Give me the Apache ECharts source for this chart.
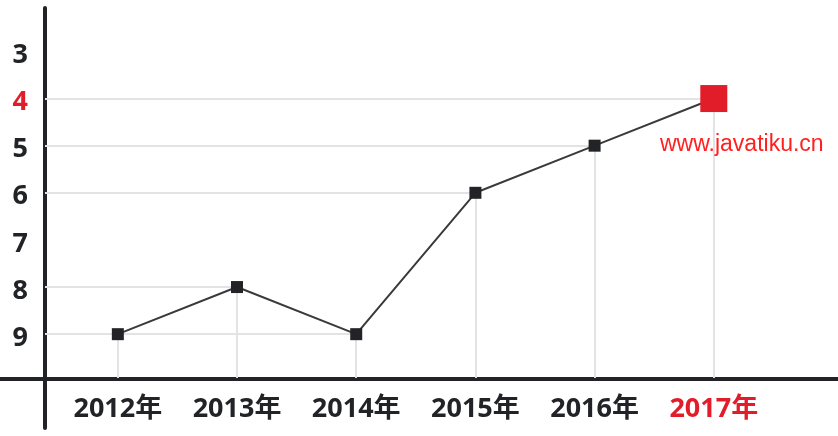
<!DOCTYPE html>
<html>
<head>
<meta charset="utf-8">
<script src="https://cdn.jsdelivr.net/npm/echarts@6/dist/echarts.min.js"></script>
<style>
html,body{margin:0;padding:0;background:#fff;}
#chart{width:838px;height:436px;}
</style>
</head>
<body>
<div id="chart"></div>
<script>
// ---- data ----
const years = [2012, 2013, 2014, 2015, 2016, 2017];
const ranks = [9, 8, 9, 6, 5, 4];
const yTickLabels = [3, 4, 5, 6, 7, 8, 9];
const highlightYear = 2017;
const highlightRank = 4;
const watermark = 'www.javatiku.cn';

// ---- axis ranges ----
const xMin = 2011.389, xMax = 2018.042;
const yMin = 2, yMax = 9.93;

const RED = '#e11d2a';
const DARK = '#222326';
const GRIDC = '#e3e3e3';
const FONT = 'Noto Sans, Noto Sans CJK SC, sans-serif';

// leader lines: vertical from each point to x-axis, horizontal from y-axis to last point of each value
const markData = [];
years.forEach((yr, i) => {
  markData.push([{ coord: [yr, ranks[i]] }, { coord: [yr, yMax] }]);
});
const lastIdx = {};
ranks.forEach((v, i) => { lastIdx[v] = i; });
Object.keys(lastIdx).forEach(v => {
  const i = lastIdx[v];
  markData.push([{ coord: [xMin, Number(v)] }, { coord: [years[i], Number(v)] }]);
});

const chart = echarts.init(document.getElementById('chart'));
chart.setOption({
  animation: false,
  backgroundColor: '#fff',
  grid: [
    { left: 45, right: 0, top: 4.3, bottom: 58 },
    { left: 45, right: 0, top: 8, bottom: 8 },
    { left: 0, right: 0, top: 0, bottom: 57.5 }
  ],
  xAxis: [
    {
      gridIndex: 0, type: 'value', min: xMin, max: xMax,
      axisLine: { show: false }, axisTick: { show: false }, splitLine: { show: false },
      axisLabel: {
        customValues: years,
        margin: 18,
        formatter: v => '{' + (v === highlightYear ? 'r' : 'n') + '|' + v + '年}',
        rich: {
          n: { color: DARK, fontSize: 27, fontWeight: 'bold', fontFamily: FONT },
          r: { color: RED, fontSize: 27, fontWeight: 'bold', fontFamily: FONT }
        }
      }
    },
    { gridIndex: 1, type: 'value', show: false },
    {
      gridIndex: 2, type: 'value', axisLabel: { show: false }, axisTick: { show: false },
      splitLine: { show: false },
      axisLine: { show: true, lineStyle: { color: DARK, width: 4 } }
    }
  ],
  yAxis: [
    {
      gridIndex: 0, type: 'value', inverse: true, min: yMin, max: yMax,
      axisLine: { show: false }, axisTick: { show: false }, splitLine: { show: false },
      axisLabel: {
        customValues: yTickLabels,
        margin: 17,
        padding: [8, 0, 0, 0],
        formatter: v => '{' + (v === highlightRank ? 'r' : 'n') + '|' + v + '}',
        rich: {
          n: { color: DARK, fontSize: 27, fontWeight: 'bold', fontFamily: FONT },
          r: { color: RED, fontSize: 27, fontWeight: 'bold', fontFamily: FONT }
        }
      }
    },
    {
      gridIndex: 1, type: 'value', axisLabel: { show: false }, axisTick: { show: false },
      splitLine: { show: false },
      axisLine: { show: true, lineStyle: { color: DARK, width: 4 } }
    },
    { gridIndex: 2, type: 'value', show: false }
  ],
  series: [
    {
      type: 'line',
      xAxisIndex: 0, yAxisIndex: 0,
      data: years.map((yr, i) => {
        const hi = yr === highlightYear;
        return {
          value: [yr, ranks[i]],
          symbol: 'rect',
          symbolSize: hi ? 27 : 12,
          itemStyle: { color: hi ? RED : DARK }
        };
      }),
      lineStyle: { color: '#3a3a3a', width: 2 },
      z: 5,
      markLine: {
        silent: true,
        symbol: 'none',
        label: { show: false },
        lineStyle: { color: GRIDC, width: 2, type: 'solid' },
        emphasis: { disabled: true },
        data: markData,
        z: 1
      }
    }
  ],
  graphic: [
    {
      type: 'text', left: 660, top: 133,
      style: { text: watermark, fill: '#ff2020', font: '23px "Liberation Sans", Arial, sans-serif' },
      z: 10
    }
  ]
});
</script>
</body>
</html>
